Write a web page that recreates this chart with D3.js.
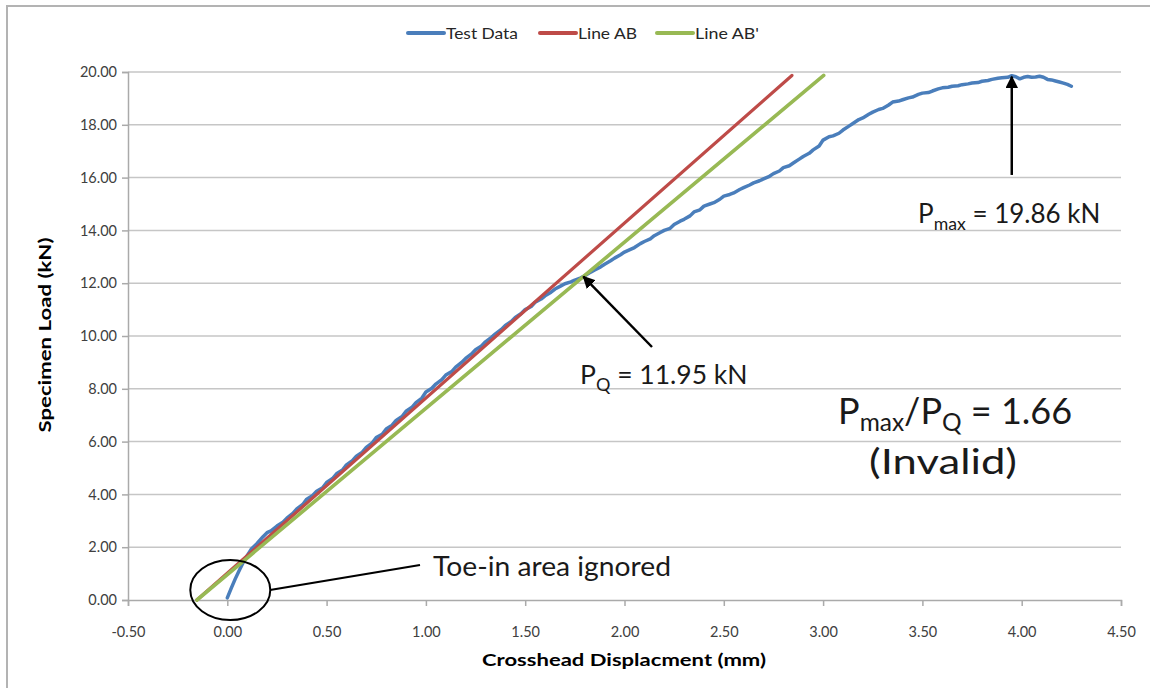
<!DOCTYPE html>
<html>
<head>
<meta charset="utf-8">
<script src="https://cdn.jsdelivr.net/npm/d3@7"></script>
<style>
  html, body { margin: 0; padding: 0; background: #fff; }
  svg { display: block; font-family: Lato, "Open Sans", sans-serif; }
</style>
</head>
<body>
<svg id="chart" width="1150" height="688"></svg>
<script>
// Crosshead displacement (mm) and specimen load (kN) from the test record
const dispMm = [
  0.00, 0.02, 0.04, 0.06, 0.08, 0.10, 0.12, 0.15, 0.18, 0.20, 0.22, 0.25, 0.28,
  0.30, 0.33, 0.35, 0.38, 0.40, 0.43, 0.45, 0.48, 0.50, 0.53, 0.55, 0.58, 0.60,
  0.63, 0.65, 0.68, 0.70, 0.73, 0.75, 0.78, 0.80, 0.83, 0.85, 0.88, 0.90, 0.93,
  0.95, 0.98, 1.00, 1.03, 1.05, 1.08, 1.10, 1.13, 1.15, 1.18, 1.20, 1.23, 1.25,
  1.28, 1.30, 1.33, 1.35, 1.38, 1.40, 1.43, 1.45, 1.48, 1.50, 1.53, 1.55, 1.58,
  1.60, 1.63, 1.65, 1.68, 1.70, 1.73, 1.75, 1.78, 1.80, 1.83, 1.85, 1.88, 1.90,
  1.93, 1.95, 1.98, 2.00, 2.03, 2.05, 2.08, 2.10, 2.13, 2.15, 2.18, 2.20, 2.23,
  2.25, 2.28, 2.30, 2.33, 2.35, 2.38, 2.40, 2.43, 2.45, 2.48, 2.50, 2.53, 2.55,
  2.58, 2.60, 2.63, 2.65, 2.68, 2.70, 2.73, 2.75, 2.78, 2.80, 2.83, 2.85, 2.88,
  2.90, 2.93, 2.95, 2.98, 3.00, 3.03, 3.05, 3.08, 3.10, 3.13, 3.15, 3.18, 3.20,
  3.23, 3.25, 3.28, 3.30, 3.33, 3.35, 3.38, 3.40, 3.43, 3.45, 3.48, 3.50, 3.53,
  3.55, 3.58, 3.60, 3.63, 3.65, 3.68, 3.70, 3.73, 3.75, 3.78, 3.80, 3.83, 3.85,
  3.88, 3.90, 3.93, 3.95, 3.97, 3.99, 4.01, 4.03, 4.05, 4.07, 4.09, 4.11, 4.13,
  4.15, 4.17, 4.19, 4.21, 4.23, 4.25
];
const loadKn = [
  0.08, 0.45, 0.80, 1.12, 1.42, 1.68, 1.92, 2.14, 2.40, 2.55, 2.62, 2.80, 2.95,
  3.10, 3.28, 3.45, 3.62, 3.82, 3.96, 4.12, 4.25, 4.45, 4.60, 4.78, 4.92, 5.12,
  5.28, 5.45, 5.60, 5.78, 5.95, 6.15, 6.28, 6.48, 6.62, 6.80, 6.95, 7.15, 7.30,
  7.48, 7.65, 7.88, 8.02, 8.18, 8.35, 8.52, 8.65, 8.82, 9.00, 9.15, 9.32, 9.48,
  9.62, 9.78, 9.95, 10.08, 10.25, 10.40, 10.55, 10.70, 10.85, 11.00, 11.12, 11.28, 11.40,
  11.52, 11.66, 11.78, 11.90, 11.98, 12.05, 12.12, 12.20, 12.28, 12.42, 12.50, 12.62, 12.72,
  12.85, 12.95, 13.08, 13.18, 13.28, 13.35, 13.50, 13.58, 13.68, 13.80, 13.92, 14.00, 14.08,
  14.22, 14.35, 14.42, 14.55, 14.70, 14.78, 14.92, 15.00, 15.05, 15.18, 15.30, 15.36, 15.42,
  15.55, 15.62, 15.72, 15.80, 15.88, 15.95, 16.05, 16.15, 16.25, 16.38, 16.45, 16.55, 16.70,
  16.80, 16.92, 17.05, 17.20, 17.42, 17.55, 17.58, 17.68, 17.80, 17.95, 18.05, 18.20, 18.26,
  18.40, 18.48, 18.58, 18.62, 18.75, 18.86, 18.90, 18.95, 19.02, 19.05, 19.15, 19.20, 19.22,
  19.28, 19.36, 19.40, 19.42, 19.46, 19.48, 19.52, 19.55, 19.58, 19.60, 19.65, 19.68, 19.72,
  19.76, 19.78, 19.80, 19.86, 19.82, 19.74, 19.80, 19.83, 19.80, 19.81, 19.84, 19.80, 19.72,
  19.70, 19.66, 19.62, 19.58, 19.53, 19.46
];

// Construction lines: AB (initial slope) and AB' (95% secant)
const lineABDisp = [-0.153, 2.843];
const lineABLoad = [0, 19.87];
const lineABpDisp = [-0.153, 3.003];
const lineABpLoad = [0, 19.87];

// Annotated results
const pMax = 19.86;
const pQ = 11.95;

// Axis ticks
const xTicks = [-0.5, 0, 0.5, 1, 1.5, 2, 2.5, 3, 3.5, 4, 4.5];
const yTicks = [0, 2, 4, 6, 8, 10, 12, 14, 16, 18, 20];

const seriesNames = ["Test Data", "Line AB", "Line AB'"];
const seriesColors = ["#4a7ebb", "#be4b48", "#98b954"];

const svg = d3.select("#chart");

// chart frame
svg.append("rect")
  .attr("x", 7).attr("y", 6).attr("width", 1160).attr("height", 700)
  .attr("fill", "#fff").attr("stroke", "#b3b3b3").attr("stroke-width", 2);

const x = d3.scaleLinear().domain([-0.5, 4.5]).range([128, 1121]);
const y = d3.scaleLinear().domain([0, 20]).range([600, 72]);

const fmt2 = d => d3.format(".2f")(d).replace("\u2212", "-");

// horizontal gridlines
svg.append("g").selectAll("line").data(yTicks.filter(d => d > 0)).join("line")
  .attr("x1", x(-0.5)).attr("x2", x(4.5))
  .attr("y1", d => y(d)).attr("y2", d => y(d))
  .attr("stroke", "#c6c6c6").attr("stroke-width", 1.5);

// y axis
const yAxis = svg.append("g")
  .attr("transform", `translate(${x(-0.5)},0)`)
  .call(d3.axisLeft(y).tickValues(yTicks).tickFormat(fmt2).tickSize(6).tickPadding(5));
yAxis.select(".domain").attr("stroke", "#aaaaaa").attr("stroke-width", 1.5);
yAxis.selectAll(".tick line").attr("stroke", "#aaaaaa").attr("stroke-width", 1.5);
yAxis.selectAll(".tick text").attr("font-size", 14.5).attr("fill", "#404040")
  .attr("font-family", "Lato, sans-serif");

// x axis
const xAxis = svg.append("g")
  .attr("transform", `translate(0,${y(0)})`)
  .call(d3.axisBottom(x).tickValues(xTicks).tickFormat(fmt2).tickSize(6).tickPadding(21));
xAxis.select(".domain").attr("stroke", "#aaaaaa").attr("stroke-width", 1.5);
xAxis.selectAll(".tick line").attr("stroke", "#aaaaaa").attr("stroke-width", 1.5);
xAxis.selectAll(".tick text").attr("font-size", 14.5).attr("fill", "#404040")
  .attr("font-family", "Lato, sans-serif");

// axis titles
svg.append("text")
  .attr("transform", "translate(51,335) rotate(-90)")
  .attr("text-anchor", "middle")
  .attr("font-size", 17).attr("font-weight", "bold").attr("fill", "#000")
  .attr("textLength", 195).attr("lengthAdjust", "spacingAndGlyphs")
  .text("Specimen Load (kN)");
svg.append("text")
  .attr("x", 624).attr("y", 666)
  .attr("text-anchor", "middle")
  .attr("font-size", 17).attr("font-weight", "bold").attr("fill", "#000")
  .attr("textLength", 284).attr("lengthAdjust", "spacingAndGlyphs")
  .text("Crosshead Displacment (mm)");

// series
const lineGen = d3.line().x(d => x(d[0])).y(d => y(d[1]));
const testPts = dispMm.map((d, i) => [d, loadKn[i]]);
const abPts = lineABDisp.map((d, i) => [d, lineABLoad[i]]);
const abpPts = lineABpDisp.map((d, i) => [d, lineABpLoad[i]]);

svg.append("path").datum(testPts).attr("d", lineGen)
  .attr("fill", "none").attr("stroke", seriesColors[0]).attr("stroke-width", 3.5)
  .attr("stroke-linejoin", "round").attr("stroke-linecap", "round");
svg.append("path").datum(abPts).attr("d", lineGen)
  .attr("fill", "none").attr("stroke", seriesColors[1]).attr("stroke-width", 3.2)
  .attr("stroke-linecap", "round");
svg.append("path").datum(abpPts).attr("d", lineGen)
  .attr("fill", "none").attr("stroke", seriesColors[2]).attr("stroke-width", 3.6)
  .attr("stroke-linecap", "round");

// legend
const legendX = [408, 540, 657];
const legendTextLen = [72, 59, 64];
const legend = svg.append("g");
seriesNames.forEach((name, i) => {
  legend.append("line")
    .attr("x1", legendX[i]).attr("x2", legendX[i] + 36)
    .attr("y1", 33).attr("y2", 33)
    .attr("stroke", seriesColors[i]).attr("stroke-width", 4).attr("stroke-linecap", "round");
  legend.append("text")
    .attr("x", legendX[i] + 38).attr("y", 39)
    .attr("font-size", 15).attr("fill", "#262626")
    .attr("textLength", legendTextLen[i]).attr("lengthAdjust", "spacingAndGlyphs")
    .text(name);
});

// arrow marker
svg.append("defs").append("marker")
  .attr("id", "arrowHead")
  .attr("viewBox", "0 0 10 10")
  .attr("refX", 9).attr("refY", 5)
  .attr("markerWidth", 5).attr("markerHeight", 5)
  .attr("markerUnits", "strokeWidth")
  .attr("orient", "auto")
  .append("path").attr("d", "M0,0 L10,5 L0,10 Z").attr("fill", "#000");

// Pmax: peak of the test record
const iMax = d3.maxIndex(loadKn);
const xMax = dispMm[iMax];
svg.append("line")
  .attr("x1", x(xMax)).attr("y1", y(16.1))
  .attr("x2", x(xMax)).attr("y2", y(pMax) + 1)
  .attr("stroke", "#000").attr("stroke-width", 2.5)
  .attr("marker-end", "url(#arrowHead)");

function subLabel(px, py, size, parts, anchor) {
  const t = svg.append("text").attr("x", px).attr("y", py)
    .attr("font-size", size).attr("fill", "#1a1a1a")
    .attr("text-anchor", anchor || "start");
  parts.forEach(p => {
    t.append("tspan")
      .attr("font-size", p.sub ? size * 0.68 : size)
      .attr("dy", p.dy || 0)
      .text(p.t);
  });
  return t;
}

subLabel(918, 223, 26, [
  { t: "P" }, { t: "max", sub: true, dy: 7 }, { t: " = " + pMax.toFixed(2) + " kN", dy: -7 }
]);

// PQ: where the test record meets line AB'
const slopeABp = (lineABpLoad[1] - lineABpLoad[0]) / (lineABpDisp[1] - lineABpDisp[0]);
const secant = d => lineABpLoad[0] + slopeABp * (d - lineABpDisp[0]);
let qIdx = 1;
for (let i = 1; i < dispMm.length; i++) {
  if (dispMm[i] > 1.5 && loadKn[i] <= secant(dispMm[i])) { qIdx = i; break; }
}
const xa = dispMm[qIdx - 1], xb = dispMm[qIdx];
const da = loadKn[qIdx - 1] - secant(xa), db = loadKn[qIdx] - secant(xb);
const xQ = xa + (xb - xa) * da / (da - db);
const yQ = secant(xQ);

svg.append("line")
  .attr("x1", 652).attr("y1", 347)
  .attr("x2", x(xQ)).attr("y2", y(yQ))
  .attr("stroke", "#000").attr("stroke-width", 2.5)
  .attr("marker-end", "url(#arrowHead)");

subLabel(580, 384, 26.5, [
  { t: "P" }, { t: "Q", sub: true, dy: 7 }, { t: " = " + pQ.toFixed(2) + " kN", dy: -7 }
]);

// ratio check
subLabel(838, 424, 36, [
  { t: "P" }, { t: "max", sub: true, dy: 7 }, { t: "/P", dy: -7 },
  { t: "Q", sub: true, dy: 7 }, { t: " = " + (pMax / pQ).toFixed(2), dy: -7 }
]);
svg.append("text").attr("x", 943).attr("y", 474)
  .attr("text-anchor", "middle").attr("font-size", 35).attr("fill", "#1a1a1a")
  .attr("textLength", 148).attr("lengthAdjust", "spacingAndGlyphs")
  .text("(Invalid)");

// toe-in region
svg.append("ellipse")
  .attr("cx", x(0.015)).attr("cy", y(0.38))
  .attr("rx", 40).attr("ry", 30)
  .attr("fill", "none").attr("stroke", "#000").attr("stroke-width", 2);
svg.append("line")
  .attr("x1", 270).attr("y1", 590).attr("x2", 420).attr("y2", 565)
  .attr("stroke", "#000").attr("stroke-width", 2);
svg.append("text").attr("x", 433).attr("y", 576)
  .attr("font-size", 26).attr("fill", "#1a1a1a")
  .attr("textLength", 238).attr("lengthAdjust", "spacingAndGlyphs")
  .text("Toe-in area ignored");
</script>
</body>
</html>
